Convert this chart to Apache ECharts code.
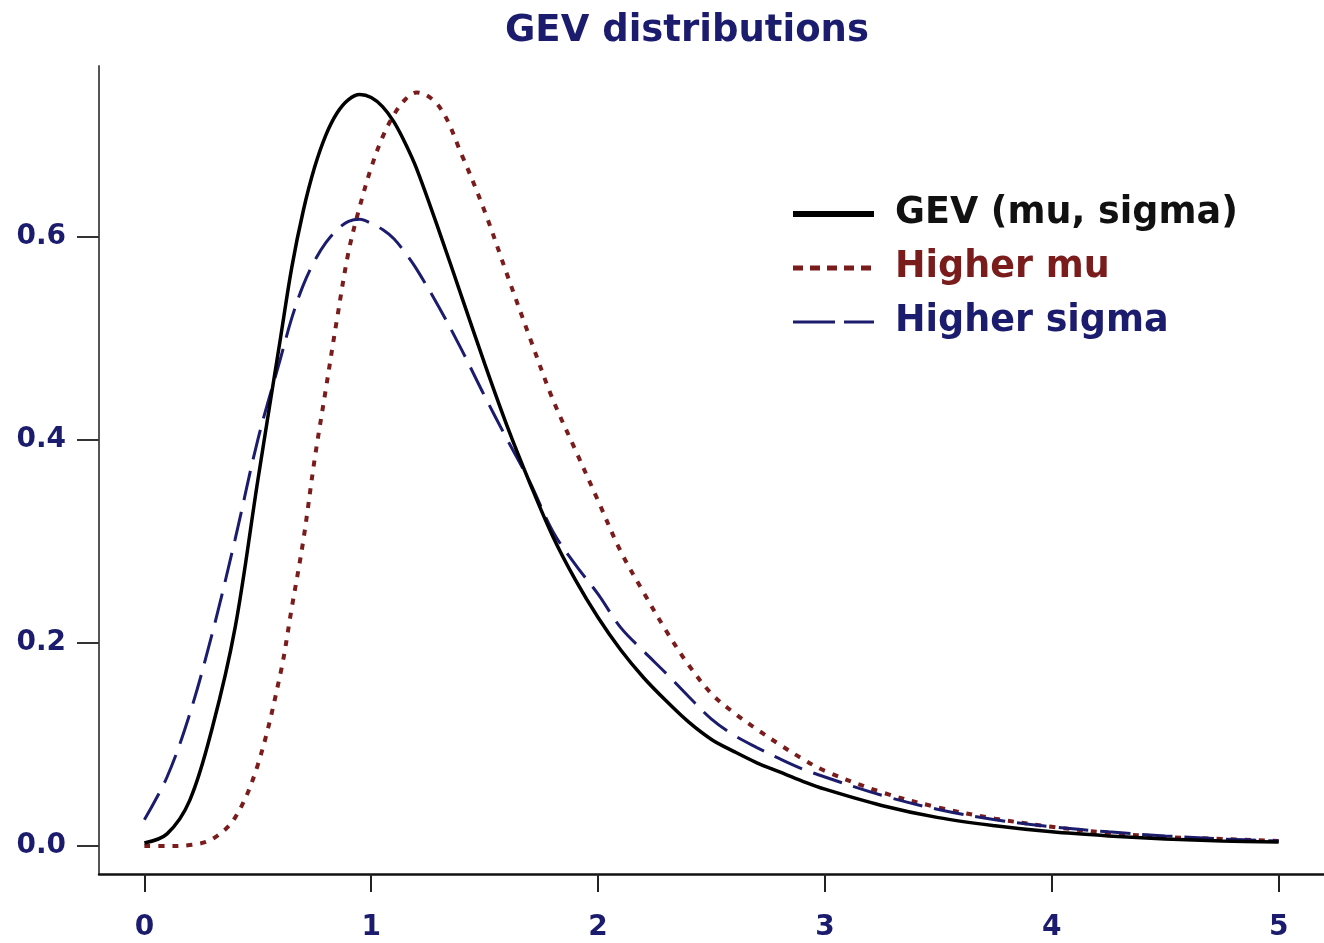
<!DOCTYPE html>
<html>
<head>
<meta charset="utf-8">
<script src="https://cdn.jsdelivr.net/npm/echarts@6/dist/echarts.min.js"></script>
<style>
html,body{margin:0;padding:0;background:#fff;}
#chart{width:1324px;height:943px;}
</style>
</head>
<body>
<div id="chart"></div>
<script>
const xValues = [0,0.1,0.2,0.3,0.4,0.5,0.6,0.65,0.7,0.75,0.8,0.85,0.9,0.95,1.0,1.05,1.1,1.15,1.2,1.3,1.4,1.5,1.6,1.7,1.8,1.9,2.0,2.1,2.2,2.3,2.4,2.5,2.6,2.7,2.8,2.9,3.0,3.25,3.5,3.75,4.0,4.25,4.5,4.75,5.0];
const gevBase = [0.003,0.012,0.045,0.117,0.215,0.36,0.50,0.57,0.625,0.668,0.70,0.722,0.735,0.74,0.737,0.728,0.713,0.692,0.667,0.605,0.54,0.475,0.413,0.357,0.305,0.262,0.225,0.193,0.166,0.143,0.122,0.105,0.093,0.082,0.073,0.064,0.056,0.040,0.028,0.020,0.014,0.010,0.007,0.005,0.004];
const gevHigherMu = [0.0,0.0,0.001,0.007,0.028,0.08,0.17,0.235,0.30,0.38,0.45,0.52,0.585,0.63,0.668,0.698,0.72,0.735,0.742,0.728,0.68,0.625,0.562,0.50,0.44,0.39,0.34,0.29,0.25,0.212,0.178,0.15,0.131,0.115,0.100,0.086,0.074,0.053,0.038,0.027,0.019,0.013,0.009,0.007,0.005];
const gevHigherSigma = [0.026,0.068,0.13,0.21,0.302,0.40,0.48,0.52,0.552,0.576,0.594,0.607,0.615,0.617,0.613,0.607,0.598,0.584,0.568,0.53,0.488,0.443,0.40,0.358,0.31,0.277,0.248,0.215,0.192,0.17,0.147,0.125,0.109,0.097,0.086,0.076,0.068,0.05,0.036,0.026,0.019,0.014,0.010,0.007,0.005];
const seriesNames = ['GEV (mu, sigma)','Higher mu','Higher sigma'];
const xTicks = [0,1,2,3,4,5];
const yTicks = [0,0.2,0.4,0.6];
const titleText = 'GEV distributions';

const pairs = ys => xValues.map((x,i)=>[x,ys[i]]);
const navy = '#1c1c6e';
const red = '#7a1c1c';
const font = '"DejaVu Sans", Arial, sans-serif';
const noSym = {color:'transparent',borderWidth:0,opacity:0};

const chart = echarts.init(document.getElementById('chart'));
chart.setOption({
  backgroundColor:'#fff',
  animation:false,
  title:{text:titleText,left:500,top:8,textStyle:{fontFamily:font,fontWeight:'bold',fontSize:37,color:navy}},
  grid:{left:99,right:0,top:66,bottom:69},
  legend:{
    orient:'vertical',left:785,top:189,itemWidth:81,itemHeight:14,itemGap:14,
    textStyle:{fontFamily:font,fontWeight:'bold',fontSize:36.5,lineHeight:40,padding:[0,0,0,16]},
    data:[
      {name:seriesNames[0],textStyle:{color:'#111'},itemStyle:noSym,lineStyle:{color:'#000',width:6,type:'solid'}},
      {name:seriesNames[1],textStyle:{color:red},itemStyle:noSym,lineStyle:{color:red,width:5,type:[10,7]}},
      {name:seriesNames[2],textStyle:{color:navy},itemStyle:noSym,lineStyle:{color:navy,width:3,type:[42,9]}}
    ]
  },
  xAxis:{type:'value',min:-0.2,max:5.2,
    axisLine:{onZero:false,lineStyle:{color:'#111',width:2.5}},
    axisTick:{show:true,customValues:xTicks,length:18,lineStyle:{color:'#222',width:2}},
    axisLabel:{customValues:xTicks,margin:40,fontFamily:font,fontWeight:'bold',fontSize:28,color:navy},
    splitLine:{show:false}},
  yAxis:{type:'value',min:-0.0275,max:0.768,
    axisLine:{show:true,onZero:false,lineStyle:{color:'#555',width:2}},
    axisTick:{show:true,customValues:yTicks,length:22,lineStyle:{color:'#333',width:2}},
    axisLabel:{customValues:yTicks,margin:33,fontFamily:font,fontWeight:'bold',fontSize:28,color:navy,formatter:v=>v.toFixed(1)},
    splitLine:{show:false}},
  series:[
    {name:seriesNames[0],type:'line',smooth:0.35,showSymbol:false,symbol:'none',data:pairs(gevBase),
     lineStyle:{color:'#000',width:3.5},itemStyle:{color:'#000'},z:3},
    {name:seriesNames[1],type:'line',smooth:0.35,showSymbol:false,symbol:'none',data:pairs(gevHigherMu),
     lineStyle:{color:red,width:4,type:[6,8]},itemStyle:{color:red},z:2},
    {name:seriesNames[2],type:'line',smooth:0.35,showSymbol:false,symbol:'none',data:pairs(gevHigherSigma),
     lineStyle:{color:navy,width:3,type:[30,12]},itemStyle:{color:navy},z:2}
  ]
});
</script>
</body>
</html>
